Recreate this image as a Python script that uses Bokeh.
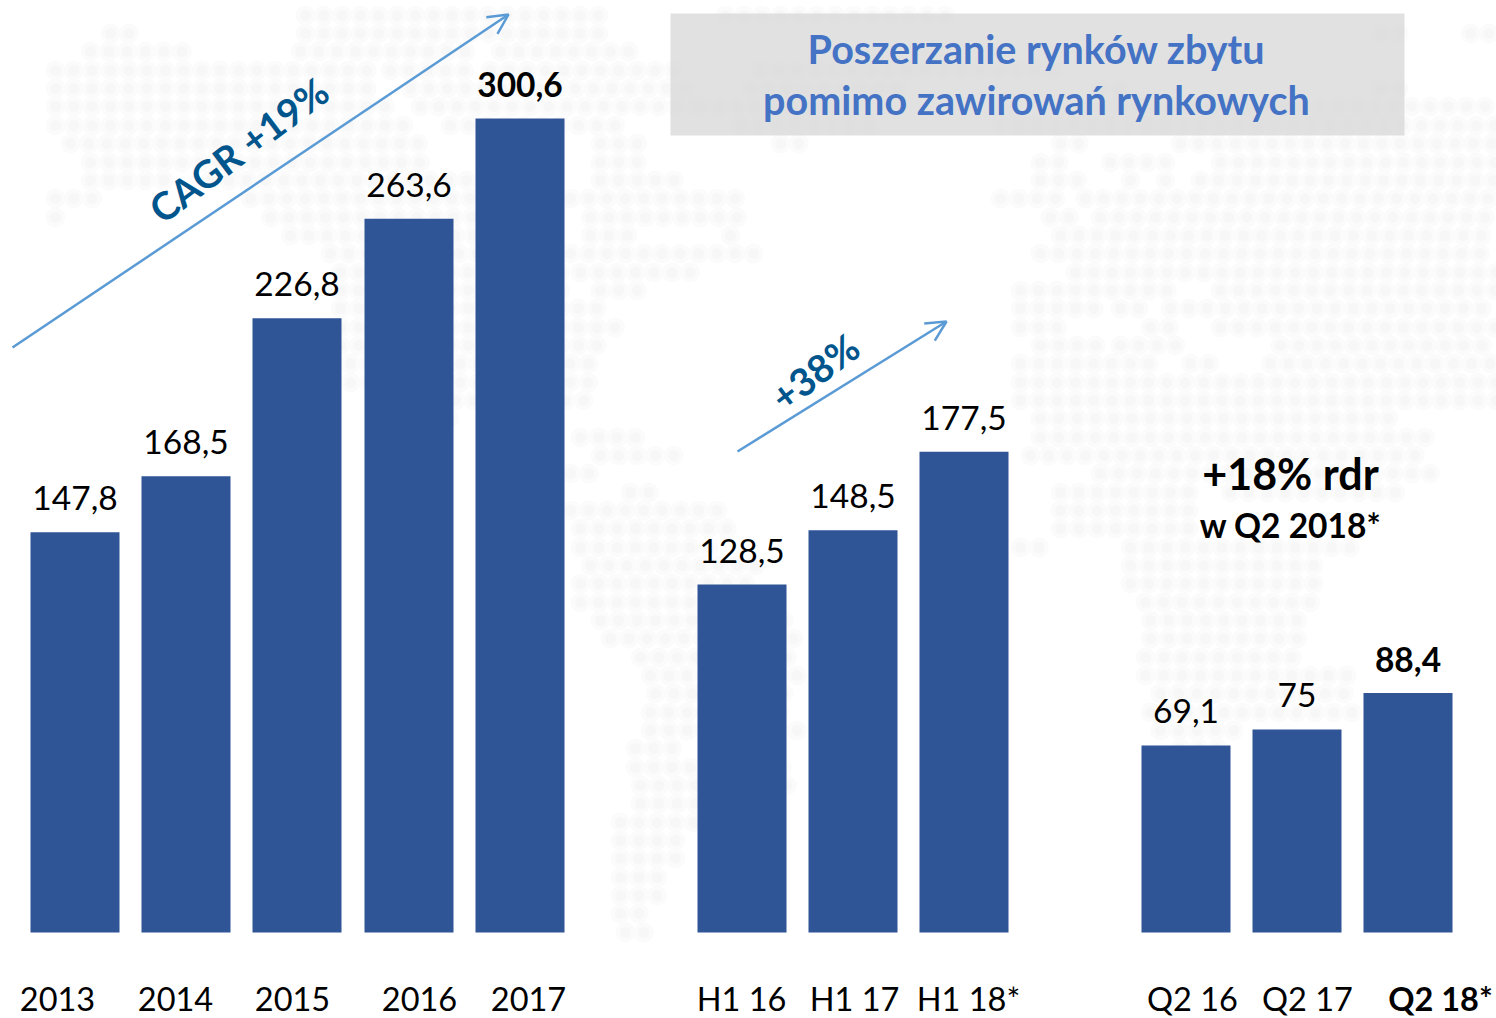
from bokeh.plotting import figure
from bokeh.embed import file_html
from bokeh.resources import INLINE
from bokeh.core.properties import value
from bokeh.models import Arrow, OpenHead, Range1d

# ---- data ----
years = ["2013", "2014", "2015", "2016", "2017"]
years_values = [147.8, 168.5, 226.8, 263.6, 300.6]
years_text = ["147,8", "168,5", "226,8", "263,6", "300,6"]
halves = ["H1 16", "H1 17", "H1 18*"]
halves_values = [128.5, 148.5, 177.5]
halves_text = ["128,5", "148,5", "177,5"]
quarters = ["Q2 16", "Q2 17", "Q2 18*"]
quarters_values = [69.1, 75, 88.4]
quarters_text = ["69,1", "75", "88,4"]
title_lines = ["Poszerzanie rynków zbytu", "pomimo zawirowań rynkowych"]

# ---- layout (page pixels) ----
W, H = 1496, 1018
PX = 2.708           # px per unit
BASE = 932
def yv(py):
    return (BASE - py) / PX

centers_years = [74.5, 185.5, 296.5, 408.5, 519.5]
centers_halves = [741.5, 852.5, 963.5]
centers_quarters = [1185.5, 1296.5, 1407.5]
label_x_years = [57, 175, 292, 419, 528]
label_x_halves = [741, 854, 968]
label_x_quarters = [1192, 1307, 1440]
BAR_W = 89

# decorative dot-world-map background: (row pixel y, spans of pixel x)
map_rows = [
    (15, [(305,600),(725,960)]),
    (33, [(110,140),(305,600),(1380,1400),(1470,1490)]),
    (51, [(90,190),(300,470),(500,640),(1100,1130),(1200,1240)]),
    (70, [(55,370),(390,470),(490,680),(760,1060)]),
    (88, [(55,380),(410,690),(750,900),(1100,1130),(1380,1400)]),
    (106, [(55,390),(420,700),(700,860),(1100,1496)]),
    (125, [(55,420),(450,620),(740,880),(1000,1496)]),
    (143, [(70,420),(600,640),(780,810),(1060,1090),(1180,1496)]),
    (162, [(90,430),(600,650),(1040,1070),(1110,1180),(1220,1496)]),
    (180, [(90,180),(210,470),(600,690),(1040,1080),(1130,1145),(1165,1175),(1200,1496)]),
    (198, [(55,100),(250,480),(570,740),(1000,1060),(1085,1496)]),
    (217, [(55,65),(270,500),(590,740),(1050,1070),(1100,1496)]),
    (235, [(290,520),(590,640),(730,745),(1060,1496)]),
    (253, [(330,540),(570,760),(1040,1496)]),
    (272, [(340,560),(580,700),(1075,1496)]),
    (290, [(340,560),(600,650),(1020,1180),(1220,1496)]),
    (308, [(340,600),(1020,1100),(1120,1150),(1170,1496)]),
    (327, [(340,620),(1020,1070),(1150,1180),(1220,1496)]),
    (345, [(340,610),(1040,1110),(1120,1180),(1280,1496)]),
    (363, [(350,600),(1020,1160),(1190,1220),(1270,1496)]),
    (382, [(350,600),(1020,1496)]),
    (400, [(400,590),(1020,1496)]),
    (418, [(430,450),(1040,1400)]),
    (437, [(580,650),(1040,1430)]),
    (455, [(600,690),(1030,1430)]),
    (473, [(570,600),(1100,1430)]),
    (492, [(630,650),(1060,1200),(1230,1400)]),
    (510, [(570,720),(1060,1200)]),
    (528, [(580,730),(1060,1200)]),
    (547, [(580,720),(1020,1050),(1130,1350)]),
    (565, [(590,760),(1130,1320)]),
    (583, [(580,760),(1130,1330)]),
    (602, [(580,780),(1145,1320)]),
    (620, [(600,790),(1150,1300)]),
    (638, [(610,800),(1150,1300)]),
    (657, [(640,800),(1145,1300)]),
    (675, [(650,800),(1145,1360)]),
    (693, [(655,800),(1160,1360)]),
    (712, [(650,780),(1150,1360)]),
    (730, [(650,800),(1160,1250)]),
    (748, [(635,680),(1180,1230)]),
    (767, [(635,790)]),
    (785, [(640,790)]),
    (803, [(640,750)]),
    (822, [(620,700)]),
    (840, [(620,690)]),
    (858, [(620,680)]),
    (877, [(620,670)]),
    (895, [(620,660)]),
    (913, [(620,650)]),
    (932, [(625,660)]),
]

FONT = value("Lato")
BAR = "#2F5597"
ARROW = "#5B9BD5"
DARKBLUE = "#00558C"

p = figure(width=W, height=H, output_backend="svg", toolbar_location=None,
           x_range=Range1d(0, W), y_range=Range1d(yv(H), yv(0)),
           min_border=0, outline_line_color=None, background_fill_color="white",
           border_fill_color="white")
p.xaxis.visible = False
p.yaxis.visible = False
p.grid.visible = False

# background map (two soft layers)
mx, my = [], []
for py, spans in map_rows:
    for a, b in spans:
        x = a
        while x <= b:
            mx.append(x)
            my.append(yv(py))
            x += 18.3
p.scatter(mx, my, marker="circle", size=20, fill_color="#fbfbfb", line_color=None)
p.scatter(mx, my, marker="circle", size=11, fill_color="#f7f7f7", line_color=None)

# title box
p.quad(left=[670], right=[1404], top=[yv(13)], bottom=[yv(135)],
       fill_color="#d6d6d6", fill_alpha=0.72, line_color=None)

def group(centers, values, texts, bold_last):
    p.vbar(x=centers, top=values, bottom=0, width=BAR_W, fill_color=BAR, line_color=None)
    styles = ["normal"] * len(values)
    if bold_last:
        styles[-1] = "bold"
    p.text(x=centers, y=values, text=texts, text_font=FONT, text_font_size="33.5px",
           text_font_style=styles, text_align="center", text_baseline="middle",
           y_offset=-34, text_color="black")

group(centers_years, years_values, years_text, True)
group(centers_halves, halves_values, halves_text, False)
group(centers_quarters, quarters_values, quarters_text, True)

# category labels
cat_y = yv(998)
for xs, cats, bold in [(label_x_years, years, False), (label_x_halves, halves, False),
                       (label_x_quarters, quarters, True)]:
    st = ["normal"] * len(cats)
    if bold:
        st[-1] = "bold"
    p.text(x=xs, y=[cat_y] * len(cats), text=cats, text_font=FONT, text_font_size="32.5px",
           text_font_style=st, text_align="center", text_baseline="middle", text_color="black")

# arrows
for x0, y0, x1, y1 in [(12, 347, 508, 14), (737, 451, 946, 321)]:
    p.add_layout(Arrow(end=OpenHead(line_color=ARROW, line_width=2.5, size=20),
                       x_start=x0, y_start=yv(y0), x_end=x1, y_end=yv(y1),
                       line_color=ARROW, line_width=2.5))

# rotated notes
p.text(x=[238], y=[yv(149)], text=["CAGR +19%"], text_font=FONT, text_font_size="38.5px",
       text_font_style="bold", angle=0.645, text_align="center", text_baseline="middle",
       text_color=DARKBLUE)
p.text(x=[814], y=[yv(371)], text=["+38%"], text_font=FONT, text_font_size="38.5px",
       text_font_style="bold", angle=0.645, text_align="center", text_baseline="middle",
       text_color=DARKBLUE)

# title
p.text(x=[1036, 1036], y=[yv(48), yv(99)], text=title_lines, text_font=FONT,
       text_font_size="39.5px", text_font_style="bold", text_align="center",
       text_baseline="middle", text_color="#4472C4")

# side note
p.text(x=[1290], y=[yv(473)], text=["+18% rdr"], text_font=FONT, text_font_size="43px",
       text_font_style="bold", text_align="center", text_baseline="middle", text_color="black")
p.text(x=[1290], y=[yv(524)], text=["w Q2 2018*"], text_font=FONT, text_font_size="33.5px",
       text_font_style="bold", text_align="center", text_baseline="middle", text_color="black")

open("out.html", "w").write(file_html(p, INLINE))
